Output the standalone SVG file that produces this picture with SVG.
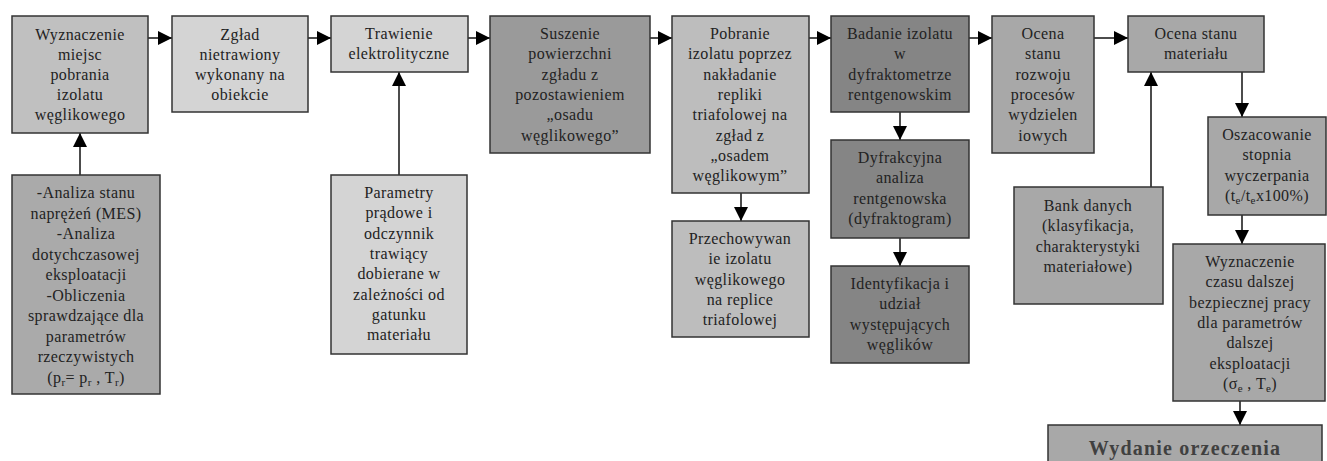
<svg xmlns="http://www.w3.org/2000/svg" width="1327" height="461" viewBox="0 0 1327 461">
<style>
.b{stroke:#333;stroke-width:1.5}
.c1{fill:#c0c0c0}.c2{fill:#d4d4d4}.c3{fill:#aaaaaa}.c4{fill:#9a9a9a}.c5{fill:#bdbdbd}.c6{fill:#858585}.c7{fill:#a8a8a8}
text{font-family:"Liberation Serif","Times New Roman",serif;font-size:16px;letter-spacing:0.4px;fill:#222;text-anchor:middle}
.s{font-size:11px}
.big{font-size:20px;font-weight:bold;letter-spacing:1.2px;fill:#404040}
.l{stroke:#111;stroke-width:1.5;fill:none}
</style>
<defs>
<marker id="a" viewBox="0 0 14 14" refX="14" refY="7" markerWidth="14" markerHeight="14" markerUnits="userSpaceOnUse" orient="auto">
<path d="M0,0 L14,7 L0,14 Z" fill="#000"/>
</marker>
</defs>
<rect width="1327" height="461" fill="#fff"/>
<g id="connectors">
<line class="l" x1="148" y1="38" x2="172" y2="38" marker-end="url(#a)"/>
<line class="l" x1="308" y1="38" x2="331" y2="38" marker-end="url(#a)"/>
<line class="l" x1="468" y1="38" x2="490" y2="38" marker-end="url(#a)"/>
<line class="l" x1="650" y1="38" x2="672" y2="38" marker-end="url(#a)"/>
<line class="l" x1="809" y1="38" x2="831" y2="38" marker-end="url(#a)"/>
<line class="l" x1="969" y1="38" x2="992" y2="38" marker-end="url(#a)"/>
<line class="l" x1="1094" y1="38" x2="1128" y2="38" marker-end="url(#a)"/>
<line class="l" x1="80" y1="175" x2="80" y2="133" marker-end="url(#a)"/>
<line class="l" x1="399" y1="175" x2="399" y2="72" marker-end="url(#a)"/>
<line class="l" x1="741" y1="193" x2="741" y2="221" marker-end="url(#a)"/>
<line class="l" x1="900" y1="112" x2="900" y2="140" marker-end="url(#a)"/>
<line class="l" x1="900" y1="238" x2="900" y2="266" marker-end="url(#a)"/>
<line class="l" x1="1151" y1="187" x2="1151" y2="72" marker-end="url(#a)"/>
<line class="l" x1="1242" y1="72" x2="1242" y2="117" marker-end="url(#a)"/>
<line class="l" x1="1242" y1="215" x2="1242" y2="244" marker-end="url(#a)"/>
<line class="l" x1="1240" y1="401" x2="1240" y2="425" marker-end="url(#a)"/>
</g>
<g id="n1">
<rect class="b c1" x="12" y="16" width="136" height="117"/>
<text x="80" y="40">Wyznaczenie</text>
<text x="80" y="60">miejsc</text>
<text x="80" y="80">pobrania</text>
<text x="80" y="100">izolatu</text>
<text x="80" y="120">węglikowego</text>
</g>
<g id="n2">
<rect class="b c2" x="172" y="16" width="136" height="96"/>
<text x="240" y="40">Zgład</text>
<text x="240" y="60">nietrawiony</text>
<text x="240" y="80">wykonany na</text>
<text x="240" y="100">obiekcie</text>
</g>
<g id="n3">
<rect class="b c2" x="331" y="16" width="137" height="56"/>
<text x="399" y="39">Trawienie</text>
<text x="399" y="59">elektrolityczne</text>
</g>
<g id="n4">
<rect class="b c4" x="490" y="16" width="160" height="137"/>
<text x="570" y="39">Suszenie</text>
<text x="570" y="59.3">powierzchni</text>
<text x="570" y="79.6">zgładu z</text>
<text x="570" y="99.9">pozostawieniem</text>
<text x="570" y="120.2">„osadu</text>
<text x="570" y="140.5">węglikowego”</text>
</g>
<g id="n5">
<rect class="b c5" x="672" y="16" width="137" height="177"/>
<text x="740" y="39">Pobranie</text>
<text x="740" y="59.3">izolatu poprzez</text>
<text x="740" y="79.6">nakładanie</text>
<text x="740" y="99.9">repliki</text>
<text x="740" y="120.2">triafolowej na</text>
<text x="740" y="140.5">zgład z</text>
<text x="740" y="160.8">„osadem</text>
<text x="740" y="181.1">węglikowym”</text>
</g>
<g id="n6">
<rect class="b c6" x="831" y="16" width="138" height="96"/>
<text x="900" y="39">Badanie izolatu</text>
<text x="900" y="59.3">w</text>
<text x="900" y="79.6">dyfraktometrze</text>
<text x="900" y="99.9">rentgenowskim</text>
</g>
<g id="n7">
<rect class="b c7" x="992" y="16" width="102" height="137"/>
<text x="1043" y="39">Ocena</text>
<text x="1043" y="59.3">stanu</text>
<text x="1043" y="79.6">rozwoju</text>
<text x="1043" y="99.9">procesów</text>
<text x="1043" y="120.2">wydzielen</text>
<text x="1043" y="140.5">iowych</text>
</g>
<g id="n8">
<rect class="b c7" x="1128" y="16" width="136" height="56"/>
<text x="1196" y="39">Ocena stanu</text>
<text x="1196" y="59.3">materiału</text>
</g>
<g id="n9">
<rect class="b c3" x="12" y="175" width="148" height="219"/>
<text x="86" y="198">-Analiza stanu</text>
<text x="86" y="218.5">naprężeń (MES)</text>
<text x="86" y="239">-Analiza</text>
<text x="86" y="259.5">dotychczasowej</text>
<text x="86" y="280">eksploatacji</text>
<text x="86" y="300.5">-Obliczenia</text>
<text x="86" y="321">sprawdzające dla</text>
<text x="86" y="341.5">parametrów</text>
<text x="86" y="362">rzeczywistych</text>
<text x="86" y="382.5">(p<tspan class="s" dy="3">r</tspan><tspan dy="-3">= p</tspan><tspan class="s" dy="3">r</tspan><tspan dy="-3"> , T</tspan><tspan class="s" dy="3">r</tspan><tspan dy="-3">)</tspan></text>
</g>
<g id="n10">
<rect class="b c2" x="331" y="175" width="136" height="179"/>
<text x="399" y="198">Parametry</text>
<text x="399" y="218.3">prądowe i</text>
<text x="399" y="238.6">odczynnik</text>
<text x="399" y="258.9">trawiący</text>
<text x="399" y="279.2">dobierane w</text>
<text x="399" y="299.5">zależności od</text>
<text x="399" y="319.8">gatunku</text>
<text x="399" y="340.1">materiału</text>
</g>
<g id="n11">
<rect class="b c5" x="672" y="221" width="137" height="116"/>
<text x="740" y="244">Przechowywan</text>
<text x="740" y="264.3">ie izolatu</text>
<text x="740" y="284.6">węglikowego</text>
<text x="740" y="304.9">na replice</text>
<text x="740" y="325.2">triafolowej</text>
</g>
<g id="n12">
<rect class="b c6" x="831" y="140" width="138" height="98"/>
<text x="900" y="163">Dyfrakcyjna</text>
<text x="900" y="183.3">analiza</text>
<text x="900" y="203.6">rentgenowska</text>
<text x="900" y="223.9">(dyfraktogram)</text>
</g>
<g id="n13">
<rect class="b c6" x="831" y="266" width="138" height="97"/>
<text x="900" y="289">Identyfikacja i</text>
<text x="900" y="309.3">udział</text>
<text x="900" y="329.6">występujących</text>
<text x="900" y="349.9">węglików</text>
</g>
<g id="n14">
<rect class="b c7" x="1014" y="187" width="149" height="117"/>
<text x="1088" y="211">Bank danych</text>
<text x="1088" y="231.3">(klasyfikacja,</text>
<text x="1088" y="251.6">charakterystyki</text>
<text x="1088" y="271.9">materiałowe)</text>
</g>
<g id="n15">
<rect class="b c7" x="1208" y="117" width="118" height="98"/>
<text x="1267" y="140">Oszacowanie</text>
<text x="1267" y="160.3">stopnia</text>
<text x="1267" y="180.6">wyczerpania</text>
<text x="1267" y="200.9">(t<tspan class="s" dy="3">e</tspan><tspan dy="-3">/t</tspan><tspan class="s" dy="3">e</tspan><tspan dy="-3">x100%)</tspan></text>
</g>
<g id="n16">
<rect class="b c7" x="1173" y="244" width="152" height="157"/>
<text x="1250" y="267">Wyznaczenie</text>
<text x="1250" y="287.3">czasu dalszej</text>
<text x="1250" y="307.6">bezpiecznej pracy</text>
<text x="1250" y="327.9">dla parametrów</text>
<text x="1250" y="348.2">dalszej</text>
<text x="1250" y="368.5">eksploatacji</text>
<text x="1250" y="388.8">(σ<tspan class="s" dy="3">e</tspan><tspan dy="-3"> , T</tspan><tspan class="s" dy="3">e</tspan><tspan dy="-3">)</tspan></text>
</g>
<g id="n17">
<rect class="b c7" x="1048" y="425" width="274" height="45"/>
<text class="big" x="1185" y="455">Wydanie orzeczenia</text>
</g>
</svg>
